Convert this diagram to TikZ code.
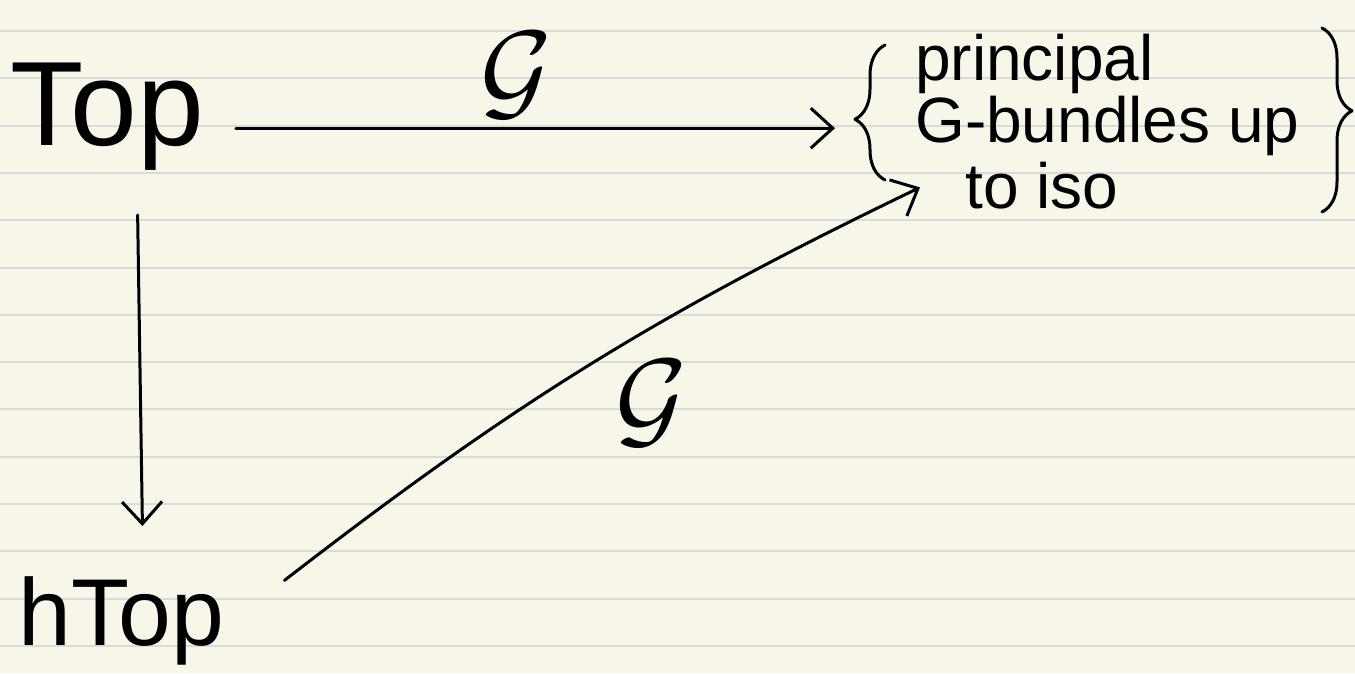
\documentclass[tikz,border=0pt]{standalone}
\usepackage{fix-cm}
\usepackage{fontspec}
\setmainfont{Liberation Sans}
\usetikzlibrary{arrows.meta,decorations.pathreplacing,positioning}
\definecolor{paper}{RGB}{248,246,233}
\definecolor{ruling}{RGB}{218,218,214}
\begin{document}
\begin{tikzpicture}[x=1pt,y=-1pt,
  ink/.style={line width=3pt,line cap=round,line join=round},
  arr/.style={ink,-{Straight Barb[length=22pt,width=40pt,line width=3pt]}},
  bigtext/.style={inner sep=0pt,font=\fontsize{120}{120}\selectfont},
  midtext/.style={inner sep=0pt,font=\fontsize{95}{95}\selectfont},
  smalltext/.style={inner sep=0pt,align=left,font=\fontsize{64}{64}\selectfont},
  maplabel/.style={inner sep=0pt,font=\fontsize{110}{110}\selectfont},
  bracestyle/.style={ink,decorate,decoration={brace,amplitude=30pt,aspect=0.45}}]
\fill[paper] (0,0) rectangle (1355,673);
\useasboundingbox (0,0) rectangle (1355,673);
\foreach \k in {0,...,13}{
  \draw[ruling,line width=2pt] (0,31+47.3*\k) -- (1355,31+47.3*\k);
}
\node[bigtext,anchor=base west] (top) at (10,145) {Top};
\node[midtext,anchor=base west] (htop) at (18,645) {hTop};
\node[smalltext,anchor=north west] (bund) at (915,34) {principal\\[-2pt]G-bundles up\\[2pt]\hspace{50pt}to iso};
\draw[bracestyle] (885,180) -- (885,45);
\draw[bracestyle] (1322,28) -- (1322,212);
\draw[arr,shorten <=32pt,shorten >=80pt] ([yshift=-12pt]top.east) -- ([yshift=-12pt]top.east -| bund.west)
  node[maplabel,pos=0.44,above=8pt] (g1) {$\mathcal{G}$};
\draw[arr,shorten <=45pt,shorten >=50pt] ([xshift=30pt]top.south) -- ([xshift=22pt]htop.north);
\draw[arr] ([xshift=60pt,yshift=40pt]htop.east) to[bend left=6]
  node[maplabel,pos=0.55,anchor=north west,xshift=-5pt,yshift=-12pt] (g2) {$\mathcal{G}$} ([xshift=5pt,yshift=22pt]bund.south west);
\end{tikzpicture}
\end{document}
